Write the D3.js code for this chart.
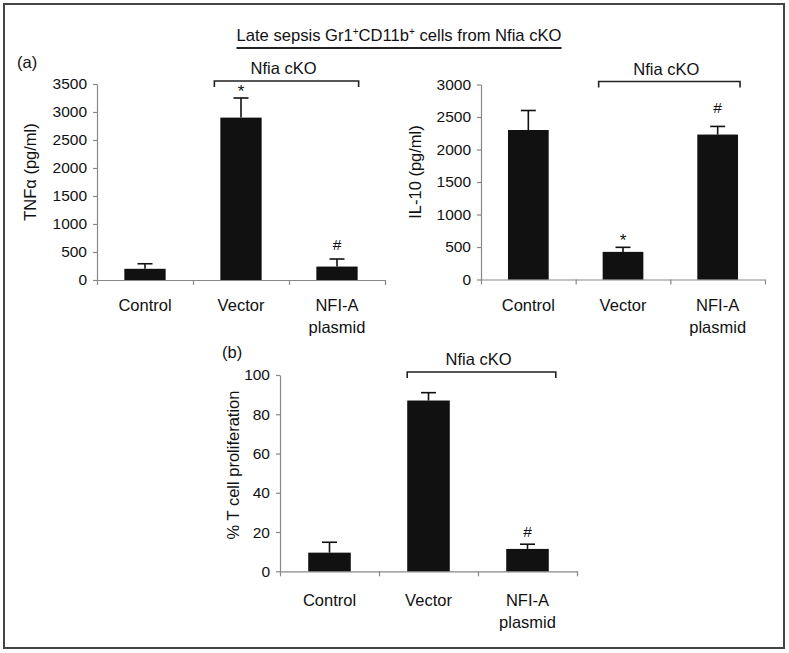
<!DOCTYPE html>
<html>
<head>
<meta charset="utf-8">
<script src="https://cdn.jsdelivr.net/npm/d3@7/dist/d3.min.js"></script>
<style>
  html, body { margin: 0; padding: 0; background: #fff; }
  svg { display: block; }
  text { font-family: "Liberation Sans", Arial, Helvetica, sans-serif; fill: #111; }
</style>
</head>
<body>
<svg id="chart" width="789" height="653"></svg>
<script>
// ---------------- DATA ----------------
const categories = ["Control", "Vector", "NFI-A plasmid"];
const categoryLines = [["Control"], ["Vector"], ["NFI-A", "plasmid"]];

const tnfValues = [200, 2900, 240];
const tnfErrors = [90, 350, 135];
const tnfMarks  = ["", "*", "#"];
const tnfTicks  = [0, 500, 1000, 1500, 2000, 2500, 3000, 3500];

const il10Values = [2300, 425, 2230];
const il10Errors = [300, 70, 125];
const il10Marks  = ["", "*", "#"];
const il10Ticks  = [0, 500, 1000, 1500, 2000, 2500, 3000];

const tcellValues = [9.5, 87, 11.4];
const tcellErrors = [5.3, 4, 2.4];
const tcellMarks  = ["", "", "#"];
const tcellTicks  = [0, 20, 40, 60, 80, 100];

const bracketLabel = "Nfia cKO";
// ---------------------------------------

const svg = d3.select("#chart");
const FONT = 16.5;
const TICKFONT = 15.5;

// frame
svg.append("rect")
  .attr("x", 4).attr("y", 4).attr("width", 780).attr("height", 644)
  .attr("fill", "none").attr("stroke", "#444").attr("stroke-width", 2);

// title with superscripts
const title = svg.append("text")
  .attr("x", 399).attr("y", 41)
  .attr("text-anchor", "middle")
  .style("font-size", "16.6px");
title.append("tspan").text("Late sepsis Gr1");
title.append("tspan").text("+").attr("dy", -6).style("font-size", "10px");
title.append("tspan").text("CD11b").attr("dy", 6);
title.append("tspan").text("+").attr("dy", -6).style("font-size", "10px");
title.append("tspan").text(" cells from Nfia cKO").attr("dy", 6);
const tb = title.node().getBBox();
svg.append("line")
  .attr("x1", tb.x).attr("x2", tb.x + tb.width)
  .attr("y1", 48).attr("y2", 48)
  .attr("stroke", "#222").attr("stroke-width", 2);

// panel letters
svg.append("text").attr("x", 17).attr("y", 68).style("font-size", FONT + "px").text("(a)");
svg.append("text").attr("x", 222).attr("y", 358).style("font-size", FONT + "px").text("(b)");

function panel(cfg) {
  const g = svg.append("g");
  const x = d3.scaleBand().domain(categories)
    .range([cfg.x0, cfg.x1]).paddingInner(0.57).paddingOuter(0.285);
  const y = d3.scaleLinear().domain([0, cfg.ticks[cfg.ticks.length - 1]])
    .range([cfg.yBottom, cfg.yTop]);

  // y axis
  const ya = g.append("g")
    .attr("transform", `translate(${cfg.x0},0)`)
    .call(d3.axisLeft(y).tickValues(cfg.ticks).tickFormat(d3.format("d"))
      .tickSizeInner(4).tickSizeOuter(0).tickPadding(6));
  ya.select(".domain").attr("stroke", "#888").attr("stroke-width", 1.2);
  ya.selectAll(".tick line").attr("stroke", "#888").attr("stroke-width", 1.2);
  ya.selectAll(".tick text")
    .style("font-size", TICKFONT + "px")
    .style("font-family", '"Liberation Sans", Arial, sans-serif')
    .attr("fill", "#111");

  // x axis with boundary ticks
  const xi = d3.scaleLinear().domain([0, categories.length]).range([cfg.x0, cfg.x1]);
  const xa = g.append("g")
    .attr("transform", `translate(0,${cfg.yBottom})`)
    .call(d3.axisBottom(xi).tickValues(d3.range(categories.length + 1))
      .tickSizeInner(5).tickSizeOuter(0).tickFormat(""));
  xa.select(".domain").attr("stroke", "#888").attr("stroke-width", 1.2);
  xa.selectAll(".tick line").attr("stroke", "#888").attr("stroke-width", 1.2);

  // category labels
  categories.forEach((c, i) => {
    const t = g.append("text")
      .attr("x", x(c) + x.bandwidth() / 2)
      .attr("y", cfg.yBottom + cfg.labelOffset)
      .attr("text-anchor", "middle")
      .style("font-size", FONT + "px");
    categoryLines[i].forEach((line, k) => {
      t.append("tspan").attr("x", x(c) + x.bandwidth() / 2)
        .attr("dy", k === 0 ? 0 : 22.5).text(line);
    });
  });

  // bars
  g.selectAll("rect.bar").data(cfg.values).join("rect")
    .attr("class", "bar")
    .attr("x", (d, i) => x(categories[i]))
    .attr("width", x.bandwidth())
    .attr("y", d => y(d))
    .attr("height", d => y(0) - y(d))
    .attr("fill", "#111");

  // error bars (upper only)
  cfg.values.forEach((v, i) => {
    const cx = x(categories[i]) + x.bandwidth() / 2;
    const top = v + cfg.errors[i];
    g.append("line").attr("x1", cx).attr("x2", cx)
      .attr("y1", y(v)).attr("y2", y(top))
      .attr("stroke", "#111").attr("stroke-width", 1.6);
    g.append("line").attr("x1", cx - 7.5).attr("x2", cx + 7.5)
      .attr("y1", y(top)).attr("y2", y(top))
      .attr("stroke", "#111").attr("stroke-width", 1.6);
    const m = cfg.marks[i];
    if (m) {
      g.append("text").attr("x", cx)
        .attr("y", y(top) - (m === "*" ? 1 : cfg.hashOffset))
        .attr("text-anchor", "middle")
        .style("font-size", (m === "*" ? 17 : 15.5) + "px")
        .text(m);
    }
  });

  // bracket
  const bx1 = x("Vector") + cfg.bl;
  const bx2 = x("NFI-A plasmid") + x.bandwidth() + cfg.br;
  const by = cfg.yTop - 3;
  g.append("path")
    .attr("d", `M${bx1},${by + 6}V${by}H${bx2}V${by + 6}`)
    .attr("fill", "none").attr("stroke", "#222").attr("stroke-width", 1.6);
  g.append("text").attr("x", (bx1 + bx2) / 2 - 3).attr("y", by - 7)
    .attr("text-anchor", "middle").style("font-size", FONT + "px").text(bracketLabel);

  // y label
  g.append("text")
    .attr("transform", `translate(${cfg.labelX},${cfg.labelY}) rotate(-90)`)
    .attr("text-anchor", "middle")
    .attr("dy", "0.35em")
    .style("font-size", FONT + "px")
    .text(cfg.yLabel);
}

panel({
  x0: 97, x1: 385, yBottom: 280, yTop: 84,
  ticks: tnfTicks, values: tnfValues, errors: tnfErrors, marks: tnfMarks,
  yLabel: "TNFα (pg/ml)", labelX: 30, labelY: 172, labelOffset: 30.5,
  bl: -6, br: 1, hashOffset: 9
});

panel({
  x0: 481, x1: 765, yBottom: 279.5, yTop: 84.5,
  ticks: il10Ticks, values: il10Values, errors: il10Errors, marks: il10Marks,
  yLabel: "IL-10 (pg/ml)", labelX: 415, labelY: 172, labelOffset: 31,
  bl: -4, br: 2, hashOffset: 13
});

panel({
  x0: 280, x1: 577, yBottom: 571.3, yTop: 375,
  ticks: tcellTicks, values: tcellValues, errors: tcellErrors, marks: tcellMarks,
  yLabel: "% T cell proliferation", labelX: 233, labelY: 465, labelOffset: 34.5,
  bl: 0, br: 7, hashOffset: 7
});
</script>
</body>
</html>
